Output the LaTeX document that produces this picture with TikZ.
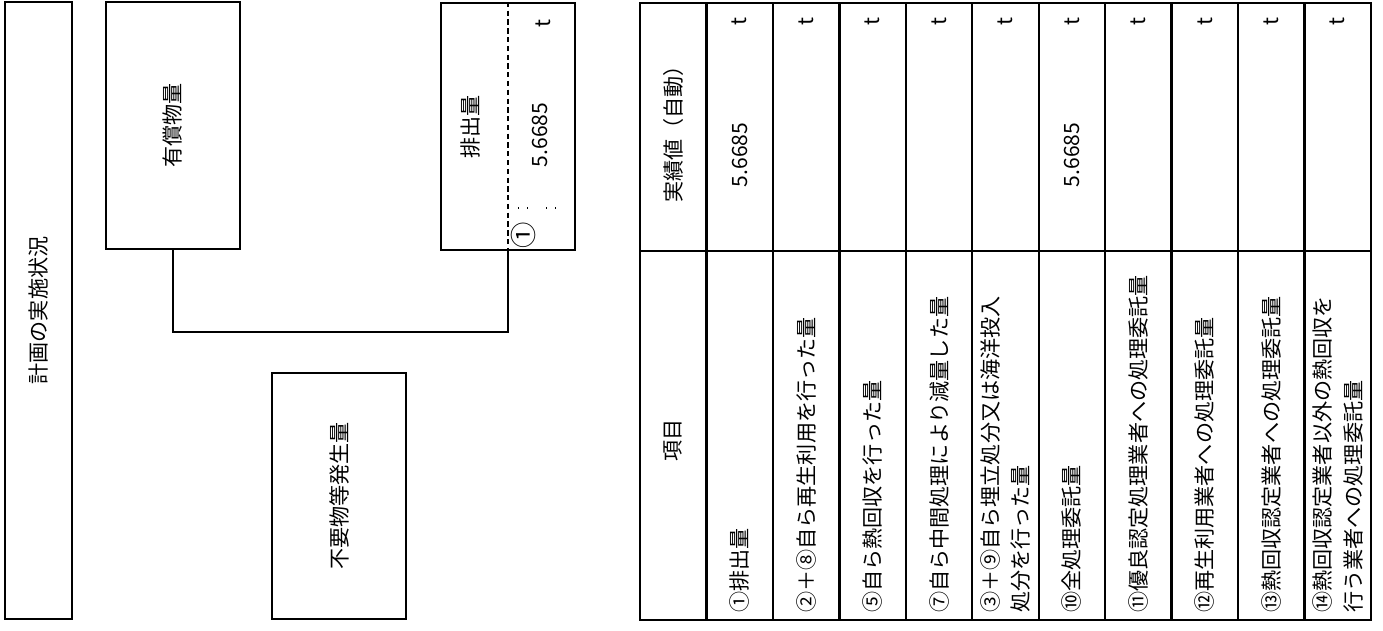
\documentclass[tikz,border=0pt]{standalone}
\usepackage{fontspec}
\setmainfont{Noto Sans CJK JP}
\usetikzlibrary{positioning}
\usetikzlibrary{calc}

\tikzset{
  frame/.style={draw, line width=1.3pt, inner sep=0pt},
  grid/.style={line width=1.3pt},
  vtext/.style={rotate=90, inner sep=0pt, font=\fontsize{12}{13.5}\selectfont},
}

\begin{document}
\begin{tikzpicture}[x=0.02cm, y=-0.02cm, >=latex]
\useasboundingbox (0,0) rectangle (1383,631);

%flow
\begin{scope}
  \node[frame, minimum width=1.34cm, minimum height=12.34cm] (plan) at (38.5,310.5)
    {\rotatebox{90}{\fontsize{12}{14}\selectfont 計画の実施状況}};
  \node[frame, minimum width=2.68cm, minimum height=4.94cm] (yushou) at (173,125.5)
    {\rotatebox{90}{\fontsize{12}{14}\selectfont 有償物量}};
  \node[frame, minimum width=2.68cm, minimum height=4.94cm] (haishutsu) at (508,126.5) {};
  \node[frame, minimum width=2.68cm, minimum height=4.92cm] (fuyou) at (339,496)
    {\rotatebox{90}{\fontsize{12}{14}\selectfont 不要物等発生量}};

  \draw[line width=1pt, densely dashed] (haishutsu.north) -- (haishutsu.south);
  \node[vtext] (hname) at (470,127) {排出量};
  \node[vtext] (hval) at (540,135) {5.6685};
  \node[vtext] (hunit) at (543,24) {t};
  \node[vtext, font=\fontsize{15}{15}\selectfont] (hnum) at (523,235) {①};
  \draw[line width=1.2pt, dash pattern=on 0.8pt off 4.6pt] (518,208) -- (528,208);
  \draw[line width=1.2pt, dash pattern=on 0.8pt off 4.6pt] (546,208) -- (556,208);

  \draw[grid] (yushou.south) -- (yushou.south |- 0,332) -| (haishutsu.south);
\end{scope}

%table
\begin{scope}
  \draw[grid] (640,3) rectangle (1371,620);
  \draw[grid] (640,251) -- (1371,251);
  \foreach \i in {1,...,10} {
    \draw[grid] ({640+66.45*\i},3) -- ++(0,617);
  }

  \node[vtext] (head) at ({640+66.45*0.5},129) {実績値（自動）};
  \node[vtext] (item) at ({640+66.45*0.5},440) {項目};

  \foreach \i/\txt in {1/①排出量,
                       2/②＋⑧自ら再生利用を行った量,
                       3/⑤自ら熱回収を行った量,
                       4/⑦自ら中間処理により減量した量,
                       5/{③＋⑨自ら埋立処分又は海洋投入\\[4pt]処分を行った量},
                       6/⑩全処理委託量,
                       7/⑪優良認定処理業者への処理委託量,
                       8/⑫再生利用業者への処理委託量,
                       9/⑬熱回収認定業者への処理委託量,
                       10/{⑭熱回収認定業者以外の熱回収を\\[4pt]行う業者への処理委託量}} {
    \node[vtext, anchor=west, align=left] (lab\i) at ({640+66.45*(\i+0.5)},613) {\txt};
    \node[vtext] (unit\i) at ({640+66.45*(\i+0.5)},22) {t};
  }

  \node[vtext] (val1) at ({640+66.45*1.5},155) {5.6685};
  \node[vtext] (val6) at ({640+66.45*6.5},155) {5.6685};
\end{scope}
\end{tikzpicture}
\end{document}
